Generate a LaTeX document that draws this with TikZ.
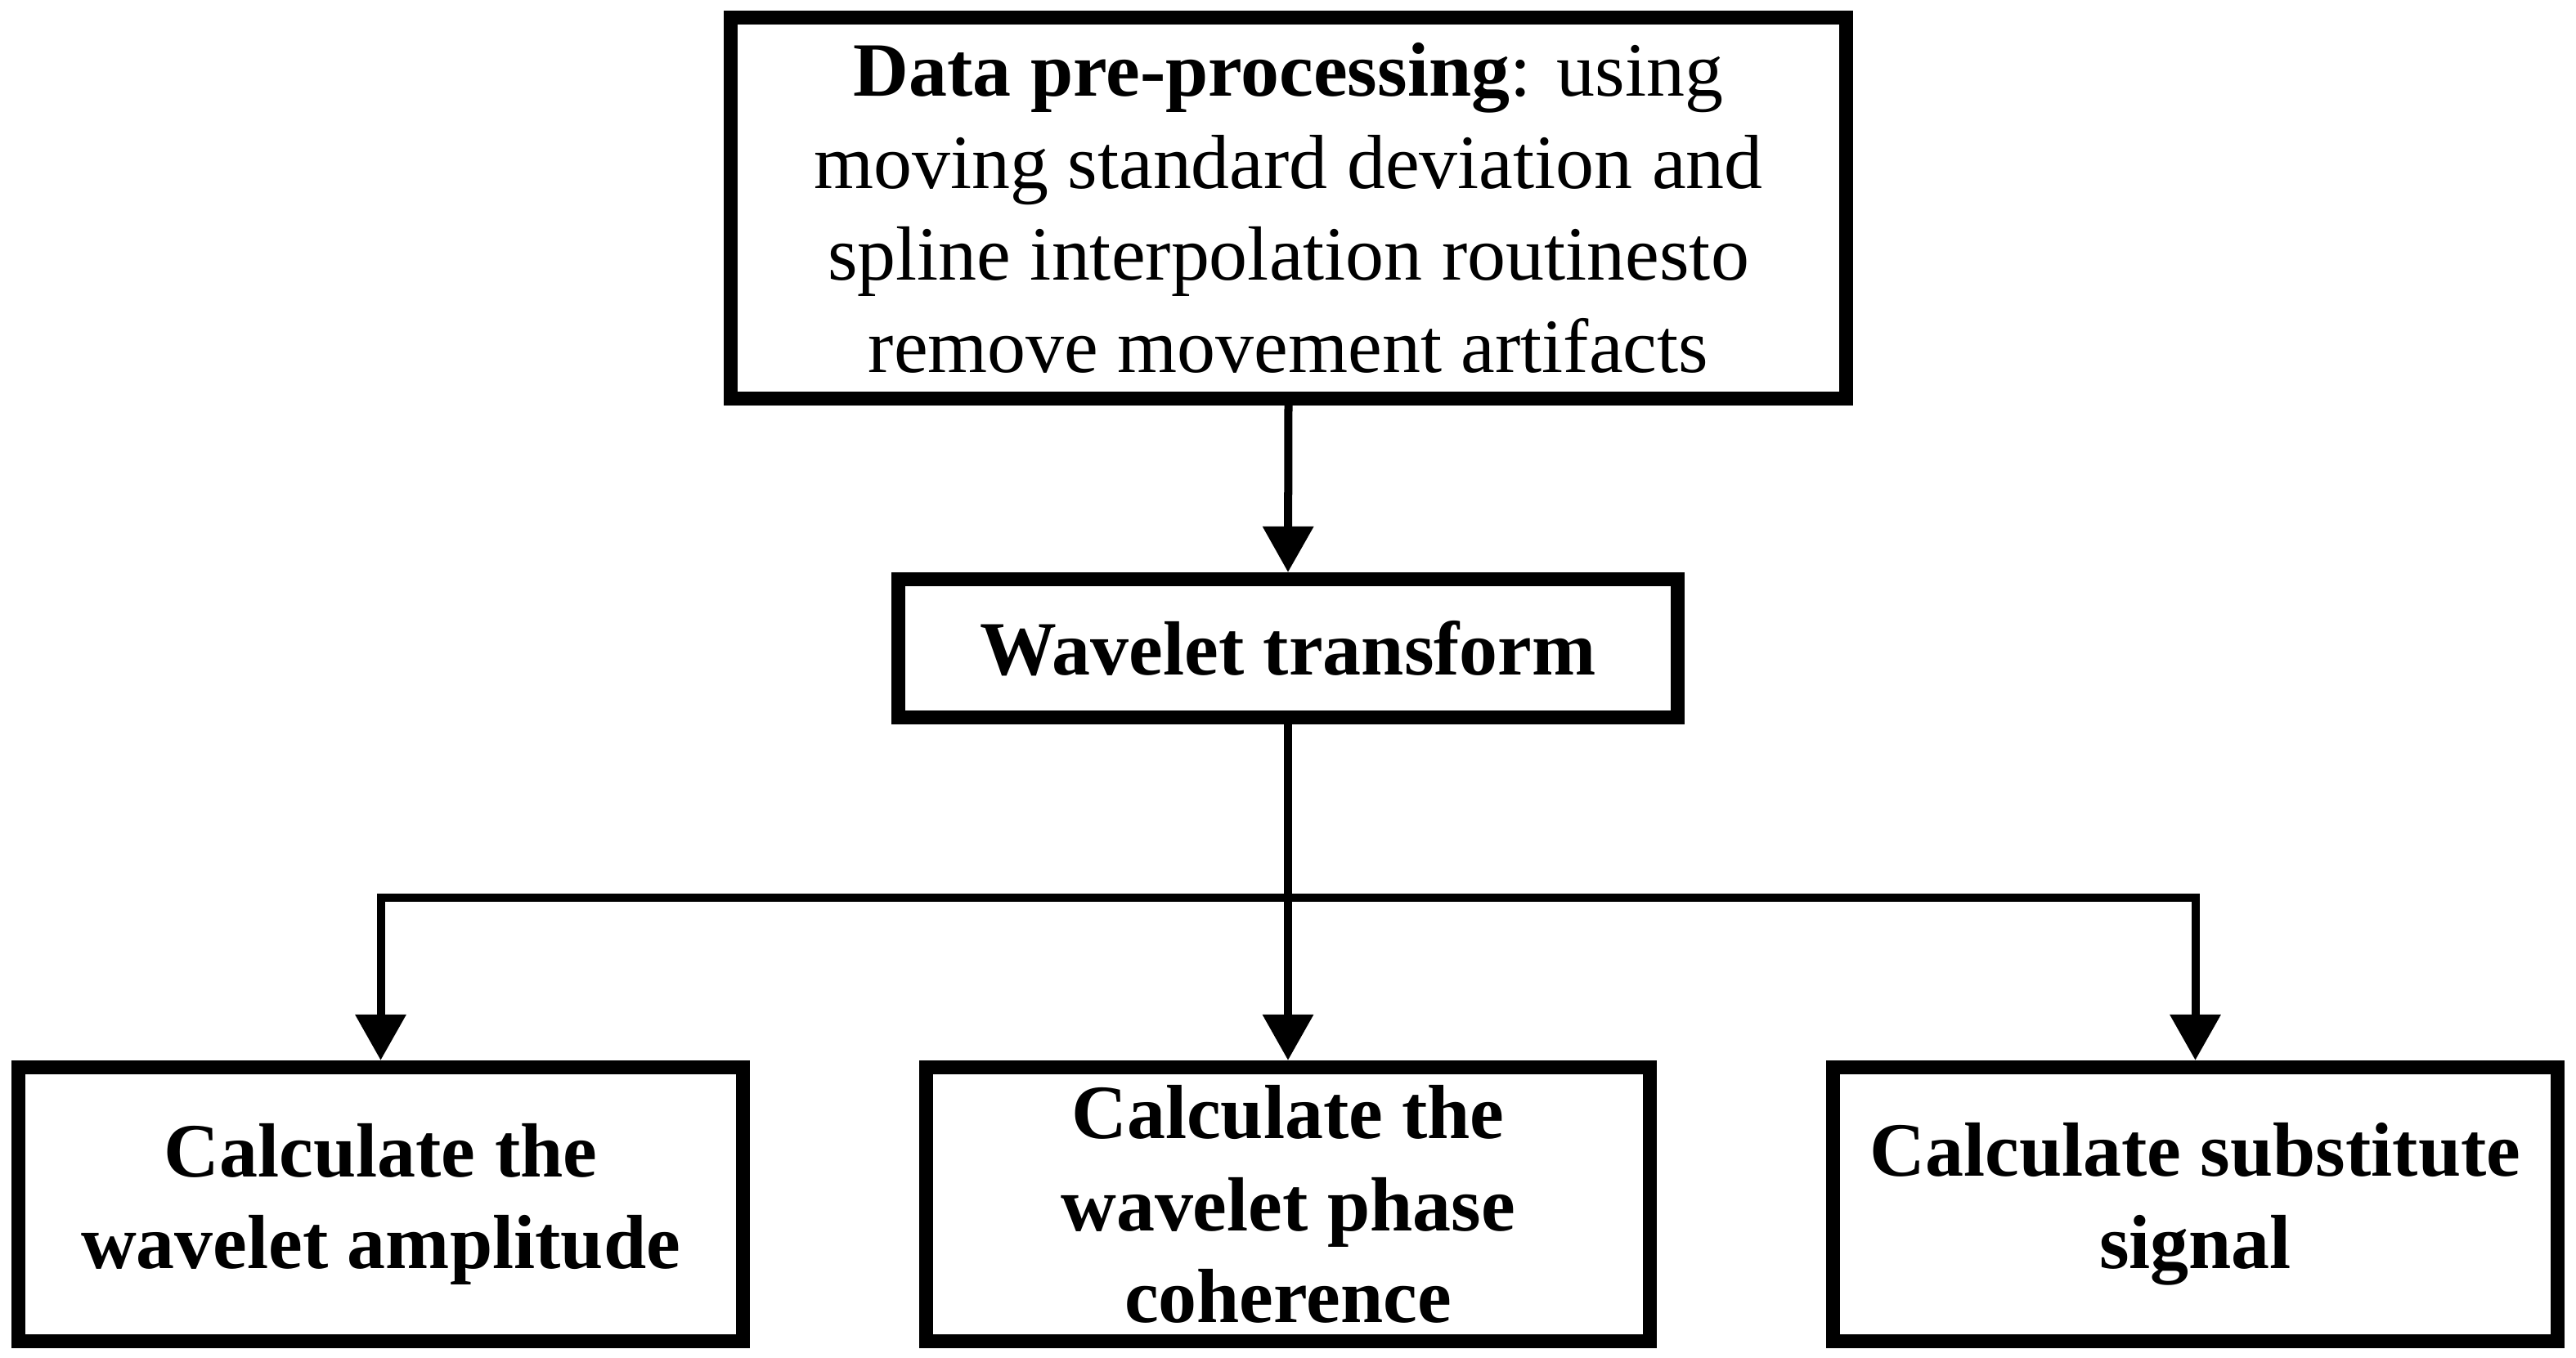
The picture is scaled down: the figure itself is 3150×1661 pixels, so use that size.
\documentclass[tikz,border=0pt]{standalone}
\usepackage{fontspec}
\setmainfont{Liberation Serif}
\usetikzlibrary{arrows.meta}
\begin{document}
\begin{tikzpicture}[x=0.01cm,y=-0.01cm,
  box/.style={draw=black, line width=0.17cm, fill=white, align=center,
    inner sep=0pt, font=\fontsize{26.7pt}{32pt}\selectfont},
  conn/.style={line width=0.1cm, line join=miter, draw=black},
  arr/.style={conn, -{Triangle[width=0.6cm,length=0.56cm]}}]
\useasboundingbox[fill=white] (0,0) rectangle (3150,1661);
\node[box, minimum width=13.64cm, minimum height=4.66cm] (top) at (1575.5,254.5)
  {\textbf{Data pre-processing}: using\\moving standard deviation and\\spline interpolation routinesto\\remove movement artifacts};
\node[box, minimum width=9.53cm, minimum height=1.69cm, font=\fontsize{26.7pt}{32pt}\selectfont\bfseries] (wave) at (1575,793)
  {Wavelet transform};
\node[box, minimum width=8.86cm, minimum height=3.35cm, font=\fontsize{26.7pt}{32pt}\selectfont\bfseries] (amp) at (465.5,1473)
  {Calculate the\\wavelet amplitude};
\node[box, minimum width=8.85cm, minimum height=3.35cm, font=\fontsize{26.7pt}{32pt}\selectfont\bfseries] (phase) at (1575,1473)
  {Calculate the\\wavelet phase\\coherence};
\node[box, minimum width=8.86cm, minimum height=3.35cm, font=\fontsize{26.7pt}{32pt}\selectfont\bfseries] (subs) at (2684.5,1473)
  {Calculate substitute\\signal};
\coordinate (split) at (1575,1098);
\draw[arr] (top.south) -- (wave.north);
\draw[arr] (wave.south) -- (phase.north);
\draw[arr] (split) -| (amp.north);
\draw[arr] (split) -| (subs.north);
\end{tikzpicture}
\end{document}
